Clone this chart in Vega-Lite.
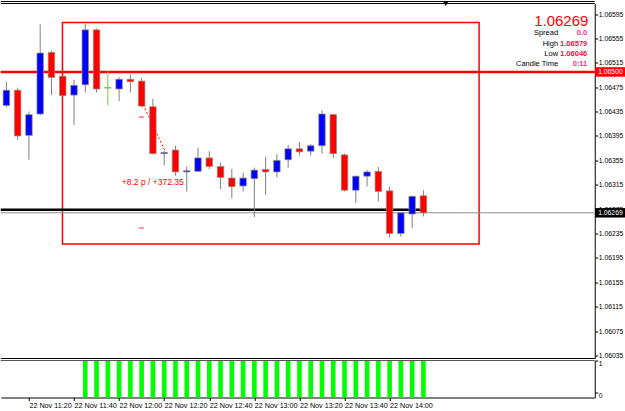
{
  "$schema": "https://vega.github.io/schema/vega-lite/v6.json",
  "padding": {"left": -1.25, "top": 0.5, "right": 0, "bottom": 0},
  "background": "white",
  "bounds": "flush",
  "spacing": 2,
  "resolve": {"scale": {"x": "independent", "y": "independent"}},
  "config": {
    "view": {"stroke": null},
    "axis": {"labelFont": "Liberation Sans", "labelFontSize": 7.2, "labelColor": "#000", "tickColor": "#000", "domainColor": "#000", "grid": false, "title": null},
    "axisY": {"labelFontSize": 6.8},
    "text": {"font": "Liberation Sans"}
  },
  "datasets": {
    "candles": [
      {"t": "2016-11-22T11:10:00", "o": 1.06445, "h": 1.06484, "l": 1.06442, "c": 1.06470},
      {"t": "2016-11-22T11:15:00", "o": 1.06470, "h": 1.06474, "l": 1.06389, "c": 1.06395},
      {"t": "2016-11-22T11:20:00", "o": 1.06396, "h": 1.06435, "l": 1.06356, "c": 1.06430},
      {"t": "2016-11-22T11:25:00", "o": 1.06431, "h": 1.06578, "l": 1.06429, "c": 1.06531},
      {"t": "2016-11-22T11:30:00", "o": 1.06532, "h": 1.06535, "l": 1.06462, "c": 1.06491},
      {"t": "2016-11-22T11:35:00", "o": 1.06493, "h": 1.06495, "l": 1.06459, "c": 1.06461},
      {"t": "2016-11-22T11:40:00", "o": 1.06462, "h": 1.06487, "l": 1.06413, "c": 1.06478},
      {"t": "2016-11-22T11:45:00", "o": 1.06479, "h": 1.06579, "l": 1.06466, "c": 1.06569},
      {"t": "2016-11-22T11:50:00", "o": 1.06569, "h": 1.06571, "l": 1.06466, "c": 1.06472},
      {"t": "2016-11-22T11:55:00", "o": 1.06474, "h": 1.06501, "l": 1.06445, "c": 1.06474},
      {"t": "2016-11-22T12:00:00", "o": 1.06472, "h": 1.06491, "l": 1.06452, "c": 1.06488},
      {"t": "2016-11-22T12:05:00", "o": 1.06488, "h": 1.06496, "l": 1.06466, "c": 1.06484},
      {"t": "2016-11-22T12:10:00", "o": 1.06485, "h": 1.06490, "l": 1.06442, "c": 1.06444},
      {"t": "2016-11-22T12:15:00", "o": 1.06443, "h": 1.06456, "l": 1.06365, "c": 1.06366},
      {"t": "2016-11-22T12:20:00", "o": 1.06366, "h": 1.06370, "l": 1.06347, "c": 1.06368},
      {"t": "2016-11-22T12:25:00", "o": 1.06372, "h": 1.06379, "l": 1.06330, "c": 1.06336},
      {"t": "2016-11-22T12:30:00", "o": 1.06336, "h": 1.06345, "l": 1.06304, "c": 1.06338},
      {"t": "2016-11-22T12:35:00", "o": 1.06337, "h": 1.06376, "l": 1.06336, "c": 1.06359},
      {"t": "2016-11-22T12:40:00", "o": 1.06359, "h": 1.06370, "l": 1.06341, "c": 1.06345},
      {"t": "2016-11-22T12:45:00", "o": 1.06345, "h": 1.06351, "l": 1.06308, "c": 1.06327},
      {"t": "2016-11-22T12:50:00", "o": 1.06326, "h": 1.06341, "l": 1.06293, "c": 1.06312},
      {"t": "2016-11-22T12:55:00", "o": 1.06313, "h": 1.06335, "l": 1.06304, "c": 1.06326},
      {"t": "2016-11-22T13:00:00", "o": 1.06325, "h": 1.06343, "l": 1.06262, "c": 1.06339},
      {"t": "2016-11-22T13:05:00", "o": 1.06340, "h": 1.06361, "l": 1.06298, "c": 1.06336},
      {"t": "2016-11-22T13:10:00", "o": 1.06336, "h": 1.06365, "l": 1.06327, "c": 1.06355},
      {"t": "2016-11-22T13:15:00", "o": 1.06356, "h": 1.06380, "l": 1.06343, "c": 1.06374},
      {"t": "2016-11-22T13:20:00", "o": 1.06374, "h": 1.06385, "l": 1.06363, "c": 1.06369},
      {"t": "2016-11-22T13:25:00", "o": 1.06370, "h": 1.06382, "l": 1.06363, "c": 1.06379},
      {"t": "2016-11-22T13:30:00", "o": 1.06379, "h": 1.06437, "l": 1.06366, "c": 1.06431},
      {"t": "2016-11-22T13:35:00", "o": 1.06430, "h": 1.06431, "l": 1.06359, "c": 1.06366},
      {"t": "2016-11-22T13:40:00", "o": 1.06364, "h": 1.06366, "l": 1.06304, "c": 1.06306},
      {"t": "2016-11-22T13:45:00", "o": 1.06306, "h": 1.06330, "l": 1.06285, "c": 1.06329},
      {"t": "2016-11-22T13:50:00", "o": 1.06329, "h": 1.06339, "l": 1.06312, "c": 1.06336},
      {"t": "2016-11-22T13:55:00", "o": 1.06337, "h": 1.06344, "l": 1.06288, "c": 1.06304},
      {"t": "2016-11-22T14:00:00", "o": 1.06305, "h": 1.06312, "l": 1.06229, "c": 1.06235},
      {"t": "2016-11-22T14:05:00", "o": 1.06235, "h": 1.06269, "l": 1.06230, "c": 1.06269},
      {"t": "2016-11-22T14:10:00", "o": 1.06267, "h": 1.06297, "l": 1.06244, "c": 1.06296},
      {"t": "2016-11-22T14:15:00", "o": 1.06297, "h": 1.06306, "l": 1.06263, "c": 1.06269}
    ],
    "signal": [
      {"t": "2016-11-22T11:45:00", "v": 1}, {"t": "2016-11-22T11:50:00", "v": 1}, {"t": "2016-11-22T11:55:00", "v": 1},
      {"t": "2016-11-22T12:00:00", "v": 1}, {"t": "2016-11-22T12:05:00", "v": 1}, {"t": "2016-11-22T12:10:00", "v": 1},
      {"t": "2016-11-22T12:15:00", "v": 1}, {"t": "2016-11-22T12:20:00", "v": 1}, {"t": "2016-11-22T12:25:00", "v": 1},
      {"t": "2016-11-22T12:30:00", "v": 1}, {"t": "2016-11-22T12:35:00", "v": 1}, {"t": "2016-11-22T12:40:00", "v": 1},
      {"t": "2016-11-22T12:45:00", "v": 1}, {"t": "2016-11-22T12:50:00", "v": 1}, {"t": "2016-11-22T12:55:00", "v": 1},
      {"t": "2016-11-22T13:00:00", "v": 1}, {"t": "2016-11-22T13:05:00", "v": 1}, {"t": "2016-11-22T13:10:00", "v": 1},
      {"t": "2016-11-22T13:15:00", "v": 1}, {"t": "2016-11-22T13:20:00", "v": 1}, {"t": "2016-11-22T13:25:00", "v": 1},
      {"t": "2016-11-22T13:30:00", "v": 1}, {"t": "2016-11-22T13:35:00", "v": 1}, {"t": "2016-11-22T13:40:00", "v": 1},
      {"t": "2016-11-22T13:45:00", "v": 1}, {"t": "2016-11-22T13:50:00", "v": 1}, {"t": "2016-11-22T13:55:00", "v": 1},
      {"t": "2016-11-22T14:00:00", "v": 1}, {"t": "2016-11-22T14:05:00", "v": 1}, {"t": "2016-11-22T14:10:00", "v": 1},
      {"t": "2016-11-22T14:15:00", "v": 1}
    ],
    "zone": [{"t": "2016-11-22T11:34:52", "t2": "2016-11-22T14:39:42", "p": 1.06581, "p2": 1.06218}],
    "trend": [{"t": "2016-11-22T11:07:30", "t2": "2016-11-22T14:15:10", "p": 1.06274}],
    "arrow": [{"t": "2016-11-22T12:09:10", "t2": "2016-11-22T12:20:40", "p": 1.06458, "p2": 1.06368}],
    "orders": [{"t": "2016-11-22T12:09:50", "p": 1.06426}, {"t": "2016-11-22T12:09:50", "p": 1.06244}],
    "profit": [{"t": "2016-11-22T12:14:56", "p": 1.0632, "txt": "+8.2 p / +372.35"}],
    "info": [
      {"label": "Spread", "value": "0.0", "p": 1.065635},
      {"label": "High", "value": "1.06579", "p": 1.065466},
      {"label": "Low", "value": "1.06046", "p": 1.065297},
      {"label": "Candle Time", "value": "0:11", "p": 1.065122}
    ]
  },
  "vconcat": [
    {
      "width": 594,
      "height": 355,
      "layer": [
        {
          "data": {"name": "zone"},
          "mark": {"type": "rect", "fill": "white", "fillOpacity": 0, "stroke": "#ff0000", "strokeWidth": 1.5},
          "encoding": {
            "x": {"field": "t", "type": "temporal", "scale": {"domain": [{"year": 2016, "month": 11, "date": 22, "hours": 11, "minutes": 7, "seconds": 30}, {"year": 2016, "month": 11, "date": 22, "hours": 15, "minutes": 31}], "padding": 0}, "axis": null},
            "x2": {"field": "t2"},
            "y": {"field": "p", "type": "quantitative", "scale": {"domain": [1.0603008, 1.0661222], "nice": false, "zero": false, "padding": 0}, "axis": {"orient": "right", "values": [1.06035, 1.06075, 1.06115, 1.06155, 1.06195, 1.06235, 1.06275, 1.06315, 1.06355, 1.06395, 1.06435, 1.06475, 1.06515, 1.06555, 1.06595], "format": ".5f", "tickSize": 3, "labelPadding": 0.5, "domain": true, "labelFlush": false, "labelOverlap": false}},
            "y2": {"field": "p2"}
          }
        },
        {
          "data": {"values": [{"p": 1.065}]},
          "mark": {"type": "rule", "color": "#ff0000", "strokeWidth": 2.5},
          "encoding": {"y": {"field": "p", "type": "quantitative", "axis": {"orient": "right", "values": [1.06035, 1.06075, 1.06115, 1.06155, 1.06195, 1.06235, 1.06275, 1.06315, 1.06355, 1.06395, 1.06435, 1.06475, 1.06515, 1.06555, 1.06595], "format": ".5f", "tickSize": 3, "labelPadding": 0.5, "domain": true, "labelFlush": false, "labelOverlap": false}}}
        },
        {
          "data": {"values": [{"p": 1.06269}]},
          "mark": {"type": "rule", "color": "#8c8c8c", "strokeWidth": 1},
          "encoding": {"y": {"field": "p", "type": "quantitative", "axis": {"orient": "right", "values": [1.06035, 1.06075, 1.06115, 1.06155, 1.06195, 1.06235, 1.06275, 1.06315, 1.06355, 1.06395, 1.06435, 1.06475, 1.06515, 1.06555, 1.06595], "format": ".5f", "tickSize": 3, "labelPadding": 0.5, "domain": true, "labelFlush": false, "labelOverlap": false}}}
        },
        {
          "data": {"name": "trend"},
          "mark": {"type": "rule", "color": "#000000", "strokeWidth": 2.5},
          "encoding": {
            "x": {"field": "t", "type": "temporal", "axis": null},
            "x2": {"field": "t2"},
            "y": {"field": "p", "type": "quantitative", "axis": {"orient": "right", "values": [1.06035, 1.06075, 1.06115, 1.06155, 1.06195, 1.06235, 1.06275, 1.06315, 1.06355, 1.06395, 1.06435, 1.06475, 1.06515, 1.06555, 1.06595], "format": ".5f", "tickSize": 3, "labelPadding": 0.5, "domain": true, "labelFlush": false, "labelOverlap": false}}
          }
        },
        {
          "data": {"name": "candles"},
          "mark": {"type": "rule", "strokeWidth": 1},
          "encoding": {
            "x": {"field": "t", "type": "temporal", "axis": null},
            "y": {"field": "l", "type": "quantitative", "axis": {"orient": "right", "values": [1.06035, 1.06075, 1.06115, 1.06155, 1.06195, 1.06235, 1.06275, 1.06315, 1.06355, 1.06395, 1.06435, 1.06475, 1.06515, 1.06555, 1.06595], "format": ".5f", "tickSize": 3, "labelPadding": 0.5, "domain": true, "labelFlush": false, "labelOverlap": false}},
            "y2": {"field": "h"},
            "color": {"condition": {"test": "datum.c == datum.o", "value": "#70d040"}, "value": "#808080"}
          }
        },
        {
          "data": {"name": "candles"},
          "mark": {"type": "bar", "size": 6.5, "stroke": "#8f8f78", "strokeWidth": 0.7},
          "encoding": {
            "x": {"field": "t", "type": "temporal", "axis": null},
            "y": {"field": "o", "type": "quantitative", "axis": {"orient": "right", "values": [1.06035, 1.06075, 1.06115, 1.06155, 1.06195, 1.06235, 1.06275, 1.06315, 1.06355, 1.06395, 1.06435, 1.06475, 1.06515, 1.06555, 1.06595], "format": ".5f", "tickSize": 3, "labelPadding": 0.5, "domain": true, "labelFlush": false, "labelOverlap": false}},
            "y2": {"field": "c"},
            "fill": {"condition": [{"test": "datum.c > datum.o", "value": "#0000ff"}, {"test": "datum.c < datum.o", "value": "#ff0000"}], "value": "#70d040"}
          }
        },
        {
          "data": {"name": "candles"},
          "transform": [{"filter": "datum.c == datum.o"}],
          "mark": {"type": "tick", "orient": "horizontal", "size": 7, "thickness": 1, "color": "#70d040"},
          "encoding": {
            "x": {"field": "t", "type": "temporal", "axis": null},
            "y": {"field": "c", "type": "quantitative", "axis": {"orient": "right", "values": [1.06035, 1.06075, 1.06115, 1.06155, 1.06195, 1.06235, 1.06275, 1.06315, 1.06355, 1.06395, 1.06435, 1.06475, 1.06515, 1.06555, 1.06595], "format": ".5f", "tickSize": 3, "labelPadding": 0.5, "domain": true, "labelFlush": false, "labelOverlap": false}}
          }
        },
        {
          "data": {"name": "arrow"},
          "mark": {"type": "rule", "color": "#ff0000", "strokeWidth": 1, "strokeDash": [2, 2]},
          "encoding": {
            "x": {"field": "t", "type": "temporal", "axis": null},
            "x2": {"field": "t2"},
            "y": {"field": "p", "type": "quantitative", "axis": {"orient": "right", "values": [1.06035, 1.06075, 1.06115, 1.06155, 1.06195, 1.06235, 1.06275, 1.06315, 1.06355, 1.06395, 1.06435, 1.06475, 1.06515, 1.06555, 1.06595], "format": ".5f", "tickSize": 3, "labelPadding": 0.5, "domain": true, "labelFlush": false, "labelOverlap": false}},
            "y2": {"field": "p2"}
          }
        },
        {
          "data": {"name": "orders"},
          "mark": {"type": "tick", "orient": "horizontal", "size": 5, "thickness": 1.2, "color": "#ff0000"},
          "encoding": {
            "x": {"field": "t", "type": "temporal", "axis": null},
            "y": {"field": "p", "type": "quantitative", "axis": {"orient": "right", "values": [1.06035, 1.06075, 1.06115, 1.06155, 1.06195, 1.06235, 1.06275, 1.06315, 1.06355, 1.06395, 1.06435, 1.06475, 1.06515, 1.06555, 1.06595], "format": ".5f", "tickSize": 3, "labelPadding": 0.5, "domain": true, "labelFlush": false, "labelOverlap": false}}
          }
        },
        {
          "data": {"name": "profit"},
          "mark": {"type": "text", "color": "#ff0000", "fontSize": 8.5, "align": "center", "baseline": "middle"},
          "encoding": {
            "x": {"field": "t", "type": "temporal", "axis": null},
            "y": {"field": "p", "type": "quantitative", "axis": {"orient": "right", "values": [1.06035, 1.06075, 1.06115, 1.06155, 1.06195, 1.06235, 1.06275, 1.06315, 1.06355, 1.06395, 1.06435, 1.06475, 1.06515, 1.06555, 1.06595], "format": ".5f", "tickSize": 3, "labelPadding": 0.5, "domain": true, "labelFlush": false, "labelOverlap": false}},
            "text": {"field": "txt"}
          }
        },
        {
          "data": {"values": [{"p": 1.0661222}, {"p": 1.066155}, {"p": 1.0603008}]},
          "mark": {"type": "rule", "color": "#000000", "strokeWidth": 1},
          "encoding": {"y": {"field": "p", "type": "quantitative", "axis": {"orient": "right", "values": [1.06035, 1.06075, 1.06115, 1.06155, 1.06195, 1.06235, 1.06275, 1.06315, 1.06355, 1.06395, 1.06435, 1.06475, 1.06515, 1.06555, 1.06595], "format": ".5f", "tickSize": 3, "labelPadding": 0.5, "domain": true, "labelFlush": false, "labelOverlap": false}}}
        },
        {
          "data": {"values": [{"p": 1.066114}]},
          "mark": {"type": "point", "shape": "triangle-down", "filled": true, "color": "#000000", "size": 22, "opacity": 1},
          "encoding": {
            "x": {"datum": {"year": 2016, "month": 11, "date": 22, "hours": 14, "minutes": 24, "seconds": 55}, "type": "temporal", "axis": null},
            "y": {"field": "p", "type": "quantitative", "axis": {"orient": "right", "values": [1.06035, 1.06075, 1.06115, 1.06155, 1.06195, 1.06235, 1.06275, 1.06315, 1.06355, 1.06395, 1.06435, 1.06475, 1.06515, 1.06555, 1.06595], "format": ".5f", "tickSize": 3, "labelPadding": 0.5, "domain": true, "labelFlush": false, "labelOverlap": false}}
          }
        },
        {
          "data": {"values": [{"p": 1.06583, "txt": "1.06269"}]},
          "mark": {"type": "text", "color": "#ff0000", "fontSize": 15, "align": "right", "baseline": "middle"},
          "encoding": {
            "x": {"datum": {"year": 2016, "month": 11, "date": 22, "hours": 15, "minutes": 28, "seconds": 10}, "type": "temporal", "axis": null},
            "y": {"field": "p", "type": "quantitative", "axis": {"orient": "right", "values": [1.06035, 1.06075, 1.06115, 1.06155, 1.06195, 1.06235, 1.06275, 1.06315, 1.06355, 1.06395, 1.06435, 1.06475, 1.06515, 1.06555, 1.06595], "format": ".5f", "tickSize": 3, "labelPadding": 0.5, "domain": true, "labelFlush": false, "labelOverlap": false}},
            "text": {"field": "txt"}
          }
        },
        {
          "data": {"name": "info"},
          "mark": {"type": "text", "color": "#000000", "fontSize": 7.5, "align": "right", "baseline": "middle"},
          "encoding": {
            "x": {"datum": {"year": 2016, "month": 11, "date": 22, "hours": 15, "minutes": 14, "seconds": 45}, "type": "temporal", "axis": null},
            "y": {"field": "p", "type": "quantitative", "axis": {"orient": "right", "values": [1.06035, 1.06075, 1.06115, 1.06155, 1.06195, 1.06235, 1.06275, 1.06315, 1.06355, 1.06395, 1.06435, 1.06475, 1.06515, 1.06555, 1.06595], "format": ".5f", "tickSize": 3, "labelPadding": 0.5, "domain": true, "labelFlush": false, "labelOverlap": false}},
            "text": {"field": "label"}
          }
        },
        {
          "data": {"name": "info"},
          "mark": {"type": "text", "fontSize": 7.5, "fontWeight": "bold", "align": "right", "baseline": "middle"},
          "encoding": {
            "x": {"datum": {"year": 2016, "month": 11, "date": 22, "hours": 15, "minutes": 27, "seconds": 40}, "type": "temporal", "axis": null},
            "y": {"field": "p", "type": "quantitative", "axis": {"orient": "right", "values": [1.06035, 1.06075, 1.06115, 1.06155, 1.06195, 1.06235, 1.06275, 1.06315, 1.06355, 1.06395, 1.06435, 1.06475, 1.06515, 1.06555, 1.06595], "format": ".5f", "tickSize": 3, "labelPadding": 0.5, "domain": true, "labelFlush": false, "labelOverlap": false}},
            "text": {"field": "value"},
            "color": {"condition": {"test": "datum.label == 'High' || datum.label == 'Low'", "value": "#ee1144"}, "value": "#ff2d96"}
          }
        },
        {
          "data": {"values": [{"p": 1.065}, {"p": 1.06269}]},
          "mark": {"type": "rule", "strokeWidth": 9.5},
          "encoding": {
            "x": {"datum": {"year": 2016, "month": 11, "date": 22, "hours": 15, "minutes": 31, "seconds": 10}, "type": "temporal", "axis": null},
            "x2": {"datum": {"year": 2016, "month": 11, "date": 22, "hours": 15, "minutes": 44, "seconds": 40}},
            "y": {"field": "p", "type": "quantitative", "axis": {"orient": "right", "values": [1.06035, 1.06075, 1.06115, 1.06155, 1.06195, 1.06235, 1.06275, 1.06315, 1.06355, 1.06395, 1.06435, 1.06475, 1.06515, 1.06555, 1.06595], "format": ".5f", "tickSize": 3, "labelPadding": 0.5, "domain": true, "labelFlush": false, "labelOverlap": false}},
            "color": {"condition": {"test": "datum.p > 1.064", "value": "#ff0000"}, "value": "#000000"}
          }
        },
        {
          "data": {"values": [{"p": 1.065, "txt": "1.06500"}, {"p": 1.06269, "txt": "1.06269"}]},
          "mark": {"type": "text", "color": "#ffffff", "fontSize": 6.8, "align": "left", "baseline": "middle"},
          "encoding": {
            "x": {"datum": {"year": 2016, "month": 11, "date": 22, "hours": 15, "minutes": 32, "seconds": 30}, "type": "temporal", "axis": null},
            "y": {"field": "p", "type": "quantitative", "axis": {"orient": "right", "values": [1.06035, 1.06075, 1.06115, 1.06155, 1.06195, 1.06235, 1.06275, 1.06315, 1.06355, 1.06395, 1.06435, 1.06475, 1.06515, 1.06555, 1.06595], "format": ".5f", "tickSize": 3, "labelPadding": 0.5, "domain": true, "labelFlush": false, "labelOverlap": false}},
            "text": {"field": "txt"}
          }
        }
      ]
    },
    {
      "width": 594,
      "height": 37,
      "layer": [
        {
          "data": {"name": "signal"},
          "mark": {"type": "bar", "color": "#00ff00", "size": 4.6},
          "encoding": {
            "x": {"field": "t", "type": "temporal", "scale": {"domain": [{"year": 2016, "month": 11, "date": 22, "hours": 11, "minutes": 7, "seconds": 30}, {"year": 2016, "month": 11, "date": 22, "hours": 15, "minutes": 31}], "padding": 0}, "axis": {"values": [{"year": 2016, "month": 11, "date": 22, "hours": 11, "minutes": 20}, {"year": 2016, "month": 11, "date": 22, "hours": 11, "minutes": 40}, {"year": 2016, "month": 11, "date": 22, "hours": 12, "minutes": 0}, {"year": 2016, "month": 11, "date": 22, "hours": 12, "minutes": 20}, {"year": 2016, "month": 11, "date": 22, "hours": 12, "minutes": 40}, {"year": 2016, "month": 11, "date": 22, "hours": 13, "minutes": 0}, {"year": 2016, "month": 11, "date": 22, "hours": 13, "minutes": 20}, {"year": 2016, "month": 11, "date": 22, "hours": 13, "minutes": 40}, {"year": 2016, "month": 11, "date": 22, "hours": 14, "minutes": 0}], "format": "%d %b %H:%M", "labelAlign": "left", "labelBaseline": "top", "labelPadding": 1, "tickSize": 3, "labelFlush": false, "labelOverlap": false, "domain": true}},
            "y": {"field": "v", "type": "quantitative", "scale": {"domain": [-0.15, 1], "nice": false, "zero": false, "padding": 0}, "axis": {"orient": "right", "values": [0, 1], "format": "d", "tickSize": 3, "labelPadding": 0.5, "labelOffset": 2.5, "domain": true, "labelFlush": false}},
            "y2": {"datum": -0.15}
          }
        },
        {
          "data": {"values": [{"v": 1}]},
          "mark": {"type": "rule", "color": "#555555", "strokeWidth": 1.2},
          "encoding": {"y": {"field": "v", "type": "quantitative", "axis": {"orient": "right", "values": [0, 1], "format": "d", "tickSize": 3, "labelPadding": 0.5, "labelOffset": 2.5, "domain": true, "labelFlush": false}}}
        }
      ]
    }
  ]
}
